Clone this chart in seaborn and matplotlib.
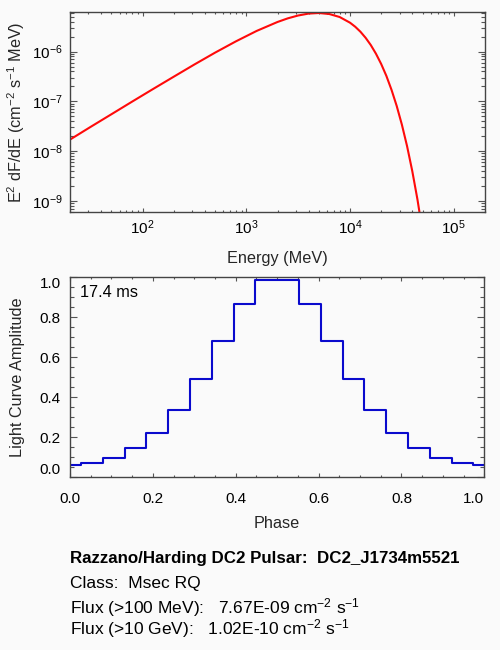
import matplotlib
matplotlib.use("Agg")
import matplotlib.pyplot as plt
import seaborn as sns
from matplotlib.ticker import LogLocator, MultipleLocator, FixedLocator, NullFormatter

# ---------------- data ----------------
energy_mev = [20, 31.6, 50.1, 79.4, 126, 200, 316, 501, 794, 1259, 1995, 2512,
              3162, 3981, 5012, 6310, 7943, 10000, 11220, 12590, 14130, 15850,
              17780, 19950, 22390, 25120, 28180, 31620, 35480, 39810, 44670, 50120]
e2_dfde = [1.71e-8, 3.08e-8, 5.52e-8, 9.91e-8, 1.77e-7, 3.14e-7, 5.52e-7, 9.57e-7,
           1.61e-6, 2.61e-6, 3.94e-6, 4.67e-6, 5.33e-6, 5.82e-6, 5.98e-6, 5.71e-6,
           4.97e-6, 3.82e-6, 3.17e-6, 2.52e-6, 1.90e-6, 1.36e-6, 9.10e-7, 5.68e-7,
           3.27e-7, 1.71e-7, 8.11e-8, 3.41e-8, 1.26e-8, 3.99e-9, 1.07e-9, 2.36e-10]

phase = [0.0, 0.0526, 0.1053, 0.1579, 0.2105, 0.2632, 0.3158, 0.3684, 0.4211, 0.4737,
         0.5263, 0.5789, 0.6316, 0.6842, 0.7368, 0.7895, 0.8421, 0.8947, 0.9474, 1.0]
amplitude = [0.061, 0.072, 0.096, 0.146, 0.221, 0.337, 0.492, 0.681, 0.868, 0.988,
             0.988, 0.868, 0.681, 0.492, 0.337, 0.221, 0.146, 0.096, 0.072, 0.061]

lin_ticks = [0.0, 0.2, 0.4, 0.6, 0.8, 1.0]
lin_labels = ["0.0", "0.2", "0.4", "0.6", "0.8", "1.0"]

title_line = "Razzano/Harding DC2 Pulsar:  DC2_J1734m5521"
class_line = "Class:  Msec RQ"
flux100_line = "Flux (>100 MeV):   7.67E-09 cm$^{-2}$ s$^{-1}$"
flux10g_line = "Flux (>10 GeV):   1.02E-10 cm$^{-2}$ s$^{-1}$"
period_text = "17.4 ms"

# ---------------- style ----------------
BG = "#fafafa"
sns.set_theme(style="ticks")
plt.rcParams["font.family"] = ["Liberation Sans", "DejaVu Sans"]
plt.rcParams["mathtext.fontset"] = "custom"
plt.rcParams["mathtext.rm"] = "Liberation Sans"
plt.rcParams["mathtext.it"] = "Liberation Sans:italic"
plt.rcParams["mathtext.bf"] = "Liberation Sans:bold"
plt.rcParams["axes.unicode_minus"] = False

fig = plt.figure(figsize=(5.0, 6.5), dpi=100, facecolor=BG)
ax1 = fig.add_axes([0.14, 1 - 212 / 650, 0.83, 199.7 / 650])
ax2 = fig.add_axes([0.14, 1 - 477.3 / 650, 414.3 / 500, 200 / 650])


def style_axes(ax, xpad, ypad):
    ax.set_facecolor(BG)
    for s in ax.spines.values():
        s.set_visible(True)
        s.set_color("#444444")
        s.set_linewidth(1.0)
    ax.tick_params(which="both", direction="in", top=True, right=True,
                   color="#555555", labelcolor="black", labelsize=11)
    ax.tick_params(axis="x", which="major", length=2.9, width=0.8, pad=xpad)
    ax.tick_params(axis="x", which="minor", length=1.5, width=0.8)
    ax.tick_params(axis="y", which="major", length=4.8, width=0.8, pad=ypad)
    ax.tick_params(axis="y", which="minor", length=2.6, width=0.8)


# ---------------- upper: spectrum ----------------
sns.lineplot(x=energy_mev, y=e2_dfde, ax=ax1, color="#ff0a0a", linewidth=1.5)
ax1.set_xscale("log")
ax1.set_yscale("log")
ax1.set_xlim(20, 2.0e5)
ax1.set_ylim(6.0e-10, 6.18e-6)
style_axes(ax1, xpad=4.3, ypad=5.0)
ax1.xaxis.set_major_locator(LogLocator(base=10, numticks=10))
ax1.xaxis.set_minor_locator(LogLocator(base=10, subs=range(2, 10), numticks=20))
ax1.xaxis.set_minor_formatter(NullFormatter())
ax1.yaxis.set_major_locator(LogLocator(base=10, numticks=10))
ax1.yaxis.set_minor_locator(LogLocator(base=10, subs=range(2, 10), numticks=20))
ax1.yaxis.set_minor_formatter(NullFormatter())
ax1.set_xlabel("Energy (MeV)", fontsize=11.7)
ax1.set_ylabel("E$^2$ dF/dE (cm$^{-2}$ s$^{-1}$ MeV)", fontsize=11.7)
ax1.xaxis.label.set_va("baseline")
ax1.xaxis.set_label_coords(0.5, (212 - 263.3) / 199.7)
ax1.yaxis.label.set_va("baseline")
ax1.yaxis.set_label_coords((22 - 70) / 415, 0.5)

# ---------------- lower: light curve ----------------
sns.lineplot(x=phase, y=amplitude, ax=ax2, color="#0a0acd", linewidth=1.5,
             drawstyle="steps-mid")
ax2.set_xlim(0, 1)
ax2.set_ylim(0, 1)
style_axes(ax2, xpad=10.3, ypad=6.7)
ax2.xaxis.set_major_locator(FixedLocator(lin_ticks))
ax2.yaxis.set_major_locator(FixedLocator(lin_ticks))
ax2.set_xticklabels(lin_labels)
ax2.set_yticklabels(lin_labels)
ax2.xaxis.set_minor_locator(MultipleLocator(0.05))
ax2.yaxis.set_minor_locator(MultipleLocator(0.05))
ax2.set_xlabel("Phase", fontsize=11.7)
ax2.set_ylabel("Light Curve Amplitude", fontsize=11.7)
ax2.xaxis.label.set_va("baseline")
ax2.xaxis.set_label_coords(0.5, (477.3 - 528.3) / 200)
ax2.yaxis.label.set_va("baseline")
ax2.yaxis.set_label_coords((22 - 70) / 414.3, 0.5)

yt = ax2.yaxis.get_major_ticks()
yt[0].label1.set_va("bottom")
yt[-1].label1.set_va("top")
xt = ax2.xaxis.get_major_ticks()
xt[-1].label1.set_ha("right")

ax2.text(0.024, 0.923, period_text, transform=ax2.transAxes, fontsize=11.7,
         ha="left", va="center", color="black")

# ---------------- info text ----------------
fig.text(0.141, 1 - 562.7 / 650, title_line, fontsize=12.2, fontweight="bold",
         ha="left", va="baseline", color="black")
fig.text(0.141, 1 - 588.3 / 650, class_line, fontsize=12.5,
         ha="left", va="baseline", color="black")
fig.text(0.141, 1 - 613.3 / 650, flux100_line, fontsize=12.5,
         ha="left", va="baseline", color="black")
fig.text(0.141, 1 - 634.3 / 650, flux10g_line, fontsize=12.5,
         ha="left", va="baseline", color="black")

fig.savefig("out.png", dpi=100, facecolor=BG)
